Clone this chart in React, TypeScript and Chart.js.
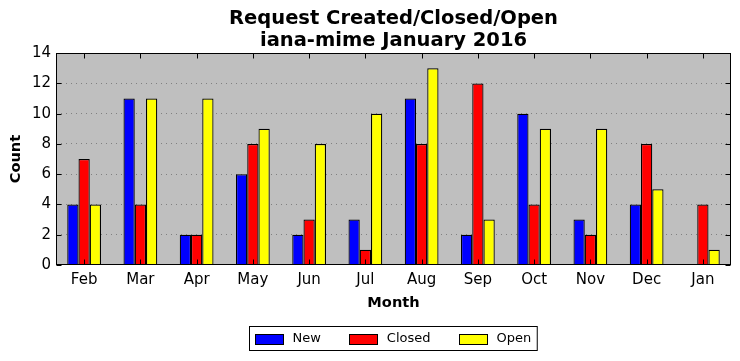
import React, { useEffect, useRef } from "react";
import { Chart, registerables } from "chart.js";

Chart.register(...registerables);

const months = ["Feb", "Mar", "Apr", "May", "Jun", "Jul", "Aug", "Sep", "Oct", "Nov", "Dec", "Jan"];
const newCounts = [4, 11, 2, 6, 2, 3, 11, 2, 10, 3, 4, 0];
const closedCounts = [7, 4, 2, 8, 3, 1, 8, 12, 4, 2, 8, 4];
const openCounts = [4, 11, 11, 9, 8, 10, 13, 3, 9, 9, 5, 1];
const yMin = 0;
const yMax = 14;
const yStep = 2;
const titleLines = ["Request Created/Closed/Open", "iana-mime January 2016"];
const xTitle = "Month";
const yTitle = "Count";
const seriesNames = ["New", "Closed", "Open"];
const seriesColors = ["#0000ff", "#ff0000", "#ffff00"];

const FONT = "'DejaVu Sans', sans-serif";

const bgPlugin = {
  id: "plotBg",
  beforeDraw(chart: any) {
    const { ctx, chartArea: a } = chart;
    ctx.save();
    ctx.fillStyle = "#bfbfbf";
    ctx.fillRect(a.left, a.top, a.right - a.left, a.bottom - a.top);
    ctx.restore();
  },
};

const framePlugin = {
  id: "frame",
  afterDatasetsDraw(chart: any) {
    const { ctx, chartArea: a, scales } = chart;
    const L = Math.round(a.left) + 0.5;
    const R = Math.round(a.right) - 0.5;
    const T = Math.round(a.top) + 0.5;
    const B = Math.round(a.bottom) - 0.5;
    ctx.save();
    ctx.strokeStyle = "#000";
    ctx.lineWidth = 1;
    ctx.beginPath();
    const tl = 5;
    scales.y.ticks.forEach((t: any, i: number) => {
      const p = Math.round(scales.y.getPixelForTick(i)) + 0.5;
      ctx.moveTo(L, p);
      ctx.lineTo(L + tl, p);
      ctx.moveTo(R, p);
      ctx.lineTo(R - tl, p);
    });
    scales.x.ticks.forEach((t: any, i: number) => {
      const p = Math.round(scales.x.getPixelForTick(i)) + 0.5;
      ctx.moveTo(p, T);
      ctx.lineTo(p, T + tl);
      ctx.moveTo(p, B);
      ctx.lineTo(p, B - tl);
    });
    ctx.stroke();
    ctx.strokeRect(L, T, R - L, B - T);
    ctx.restore();
  },
};

const legendPlugin = {
  id: "boxLegend",
  afterDraw(chart: any) {
    const { ctx, chartArea: a } = chart;
    ctx.save();
    ctx.font = `13px ${FONT}`;
    const items = chart.data.datasets.map((ds: any) => ({
      label: ds.label,
      color: ds.backgroundColor,
      w: ctx.measureText(ds.label).width,
    }));
    const boxW = 28, boxH = 10, gapText = 10, gapItem = 28, pad = 5.5;
    let total = pad * 2 + gapItem * (items.length - 1);
    items.forEach((it: any) => (total += boxW + gapText + it.w));
    const x0 = Math.round((a.left + a.right) / 2 - total / 2) - 0.5;
    const top = Math.round(a.bottom) + 61 + 0.5;
    const h = 24;
    ctx.fillStyle = "#fff";
    ctx.fillRect(x0, top, total, h);
    ctx.strokeStyle = "#000";
    ctx.lineWidth = 1;
    ctx.strokeRect(x0, top, total, h);
    let x = x0 + pad - 0.5;
    const cy = top + h / 2;
    items.forEach((it: any) => {
      ctx.fillStyle = it.color;
      const by = Math.round(cy - boxH / 2) + 0.5;
      ctx.fillRect(Math.round(x) + 0.5, by, boxW, boxH);
      ctx.strokeRect(Math.round(x) + 0.5, by, boxW, boxH);
      ctx.fillStyle = "#000";
      ctx.textBaseline = "middle";
      ctx.textAlign = "left";
      ctx.fillText(it.label, x + boxW + gapText, cy);
      x += boxW + gapText + it.w + gapItem;
    });
    ctx.restore();
  },
};

export default function App() {
  const ref = useRef<HTMLCanvasElement | null>(null);
  useEffect(() => {
    document.body.style.margin = "0";
    if (!ref.current) return;
    const seriesData = [newCounts, closedCounts, openCounts];
    const chart = new Chart(ref.current, {
      type: "bar",
      data: {
        labels: months,
        datasets: seriesData.map((d, i) => ({
          label: seriesNames[i],
          data: d,
          backgroundColor: seriesColors[i],
          borderColor: "#000",
          borderWidth: 1.2,
          categoryPercentage: 0.6,
          barPercentage: 1,
        })),
      },
      options: {
        responsive: false,
        animation: false,
        devicePixelRatio: 1,
        layout: { padding: { left: 0, right: 9, top: 0, bottom: 0 } },
        plugins: {
          legend: { display: false },
          tooltip: { enabled: false },
          title: {
            display: true,
            text: titleLines,
            fullSize: false,
            color: "#000",
            font: { family: FONT, size: 19.5, weight: "bold", lineHeight: 1.13 },
            padding: { top: 7.5, bottom: 1.6 },
          },
        },
        scales: {
          x: {
            grid: { display: false, drawTicks: false },
            border: { display: false },
            ticks: { color: "#000", font: { family: FONT, size: 15 }, padding: 6, maxRotation: 0 },
            title: {
              display: true,
              text: xTitle,
              color: "#000",
              font: { family: FONT, size: 14.6, weight: "bold", lineHeight: 1.2 },
              padding: { top: 0, bottom: 48.7 },
            },
            afterFit(scale: any) {
              scale.height = 96;
            },
          },
          y: {
            min: yMin,
            max: yMax,
            grid: {
              drawTicks: false,
              lineWidth: 1,
              color: (c: any) =>
                c.tick && (c.tick.value === yMin || c.tick.value === yMax) ? "rgba(0,0,0,0)" : "#808080",
            },
            border: { display: false, dash: [1, 4] },
            ticks: { stepSize: yStep, color: "#000", font: { family: FONT, size: 15 }, padding: 5 },
            title: {
              display: true,
              text: yTitle,
              color: "#000",
              font: { family: FONT, size: 14.6, weight: "bold", lineHeight: 1.2 },
              padding: { top: 7.2, bottom: 0 },
            },
            afterFit(scale: any) {
              scale.width = 56;
            },
          },
        },
      },
      plugins: [bgPlugin, framePlugin, legendPlugin],
    } as any);
    return () => chart.destroy();
  }, []);
  return (
    <div style={{ width: 740, height: 361 }}>
      <canvas ref={ref} width={740} height={361} style={{ display: "block" }} />
    </div>
  );
}
